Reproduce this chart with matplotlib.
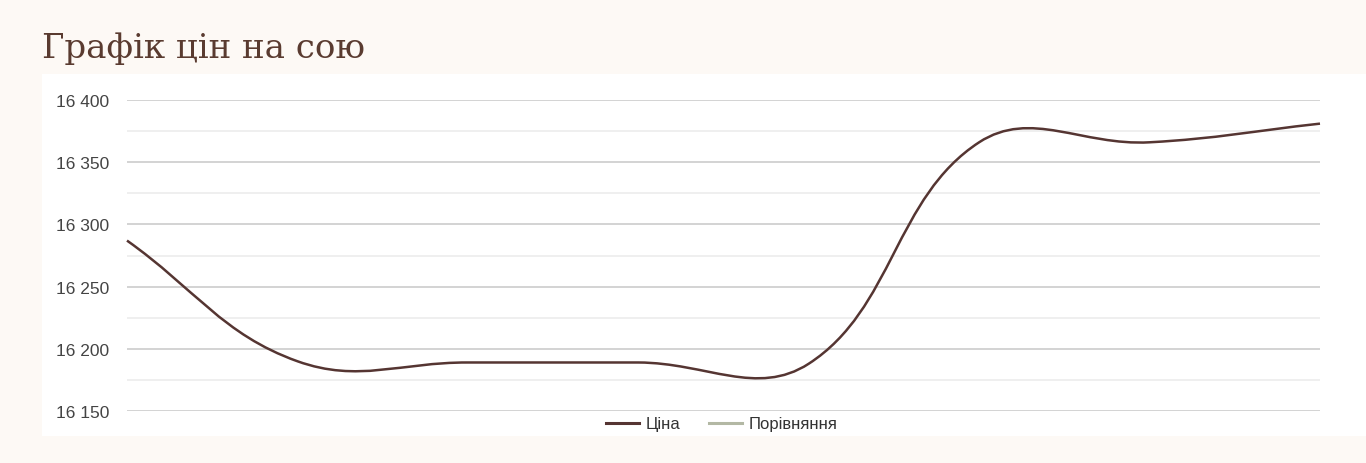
import matplotlib
matplotlib.use("Agg")
import matplotlib.pyplot as plt
from matplotlib.path import Path
from matplotlib.patches import PathPatch
from matplotlib.ticker import FuncFormatter, MultipleLocator
import numpy as np

points = [0, 1, 2, 3, 4, 5, 6, 7]
price = [16287, 16190, 16189, 16189, 16188, 16366, 16366, 16381]
y_ticks = [16150, 16200, 16250, 16300, 16350, 16400]
legend_labels = ["Ціна", "Порівняння"]

bg = "#fdf9f5"
brown = "#553532"
compare_col = "#b3b8a4"

W, H = 1366, 464
fig = plt.figure(figsize=(W / 100, H / 100), dpi=100)
fig.patch.set_facecolor(bg)

# white card behind the chart
card = fig.add_axes([42 / W, 1 - 437 / H, 1 - 42 / W, (437 - 75) / H], zorder=-1)
card.set_facecolor("white")
card.set_xticks([])
card.set_yticks([])
for s in card.spines.values():
    s.set_visible(False)

fig.text(42 / W, 1 - 58 / H, "Графік цін на сою", family="DejaVu Serif",
         fontsize=24.5, color="#5a3b30", va="baseline", ha="left")

ax = fig.add_axes([127 / W, 1 - 412 / H, (1320 - 127) / W, (412 - 101) / H])
ax.set_facecolor("none")
ax.set_xlim(points[0], points[-1])
ax.set_ylim(y_ticks[0], y_ticks[-1])
for s in ax.spines.values():
    s.set_visible(False)
ax.set_xticks([])
ax.set_yticks(y_ticks)
ax.yaxis.set_minor_locator(MultipleLocator(25))
ax.yaxis.set_major_formatter(FuncFormatter(lambda v, p: f"{int(v):,}".replace(",", " ")))
ax.tick_params(axis="y", which="both", length=0, pad=13, labelsize=12.5,
               labelcolor="#444444")
for lb in ax.get_yticklabels():
    lb.set_family("Liberation Sans")
ax.grid(axis="y", which="major", color="#cccccc", lw=1.2)
ax.grid(axis="y", which="minor", color="#ececec", lw=1.2)
ax.set_axisbelow(True)

# smooth line like Chart.js (tension 0.4), control points in pixel space
fig.canvas.draw()
pix = ax.transData.transform(np.column_stack([points, price]))
t = 0.4
n = len(pix)
prev_cp, next_cp = [], []
for i in range(n):
    p0 = pix[max(i - 1, 0)]
    p1 = pix[i]
    p2 = pix[min(i + 1, n - 1)]
    d01 = np.hypot(*(p1 - p0))
    d12 = np.hypot(*(p1 - p2))
    tot = d01 + d12
    fa = t * d01 / tot if tot else 0
    fb = t * d12 / tot if tot else 0
    prev_cp.append(p1 - fa * (p2 - p0))
    next_cp.append(p1 + fb * (p2 - p0))
verts = [pix[0]]
codes = [Path.MOVETO]
for i in range(n - 1):
    verts += [next_cp[i], prev_cp[i + 1], pix[i + 1]]
    codes += [Path.CURVE4] * 3
verts = ax.transData.inverted().transform(np.array(verts))
ax.add_patch(PathPatch(Path(verts, codes), facecolor="none", edgecolor=brown,
                       lw=1.8, clip_on=False, zorder=3))

h1, = ax.plot([], [], color=brown, lw=2.2)
h2, = ax.plot([], [], color=compare_col, lw=2.2)
fig.legend([h1, h2], legend_labels, loc="center", ncol=2,
           bbox_to_anchor=(722 / W, 1 - 425 / H), frameon=False,
           prop={"family": "Liberation Sans", "size": 12},
           labelcolor="#333333", handlelength=2.0, handletextpad=0.4,
           columnspacing=1.7)

fig.savefig("out.png", dpi=100, facecolor=bg)
